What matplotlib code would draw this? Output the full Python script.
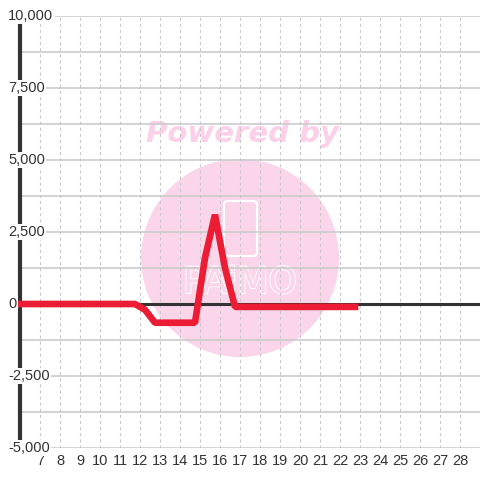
import matplotlib
matplotlib.use("Agg")
import matplotlib.pyplot as plt
from matplotlib.patches import Circle, FancyBboxPatch
from matplotlib.transforms import IdentityTransform
import matplotlib.patheffects as pe

# ---- data ----
x_vals = [6, 11.75, 12.25, 12.75, 14.75, 15.25, 15.75, 16.25, 16.75, 22.75]
y_vals = [0, 0, -200, -650, -650, 1600, 3100, 1250, -100, -100]
x_ticks = list(range(7, 29))
y_label_vals = [10000, 7500, 5000, 2500, 0, -2500, -5000]
y_labels = ["10,000", "7,500", "5,000", "2,500", "0", "-2,500", "-5,000"]
y_grid_vals = [-5000, -3750, -2500, -1250, 0, 1250, 2500, 3750, 5000, 6250, 7500, 8750, 10000]

plt.rcParams['font.family'] = ['Liberation Sans', 'DejaVu Sans']
plt.rcParams['lines.scale_dashes'] = False

W, H = 480, 480
fig = plt.figure(figsize=(4.8, 4.8), dpi=100)
fig.patch.set_facecolor('white')
ax = fig.add_axes([20 / W, (480 - 448) / H, 460 / W, (448 - 16) / H])
ax.set_facecolor('white')
ax.set_xlim(6, 29)
ax.set_ylim(-5000, 10000)

# watermark (pixel coordinates, drawn inside the axes below the grid)
ident = IdentityTransform()
circ = Circle((240, 480 - 258), 99, transform=ident, facecolor='#fbd5ea',
              edgecolor='none', zorder=0.1, clip_on=False)
ax.add_artist(circ)
phone = FancyBboxPatch((224, 480 - 256), 33, 55, boxstyle="round,pad=0,rounding_size=4",
                       transform=ident, facecolor='none', edgecolor='white', lw=1.6,
                       zorder=0.2, clip_on=False)
ax.add_artist(phone)
ax.text(240, 480 - 283, "PAiMO", transform=ident, ha='center', va='center', fontsize=26,
        family='DejaVu Sans', color='#fbd5ea', zorder=0.3,
        path_effects=[pe.withStroke(linewidth=1.6, foreground='white'), pe.Normal()])
ax.text(242, 480 - 134, "Powered by", transform=ident, ha='center', va='center', fontsize=21,
        family='DejaVu Sans', fontweight='bold', fontstyle='italic', color='#fbd0e8', zorder=0.3)

# grid
for yv in y_grid_vals:
    ax.axhline(yv, color='#cccccc', lw=1.2, zorder=1)
for xv in x_ticks:
    ax.axvline(xv, color='#c8c8c8', lw=0.8, ls=(0, (2.2, 2.2)), zorder=1)

# zero line
ax.axhline(0, color='#333333', lw=2.2, zorder=2)

# spines
for s in ['top', 'right', 'bottom']:
    ax.spines[s].set_visible(False)
ax.spines['left'].set_color('#333333')
ax.spines['left'].set_linewidth(3)
ax.spines['left'].set_zorder(2.5)

# data line
ax.plot(x_vals, y_vals, color='#ec1c35', lw=4.8, solid_capstyle='projecting',
        solid_joinstyle='bevel', clip_on=False, zorder=5)

# ticks
ax.set_xticks(x_ticks)
ax.set_xticklabels([str(v) for v in x_ticks])
ax.tick_params(axis='x', length=0, pad=4, labelsize=10.5, labelcolor='#333333')
ax.set_yticks([])
ax.tick_params(axis='y', length=0)

for yv, lab in zip(y_label_vals, y_labels):
    ax.text(-12 / 460, yv, lab, transform=ax.get_yaxis_transform(), ha='left', va='center',
            fontsize=10.5, color='#333333', zorder=10, clip_on=False,
            bbox=dict(facecolor='white', edgecolor='none', pad=1.0))

fig.savefig('out.png', dpi=100, facecolor='white')
